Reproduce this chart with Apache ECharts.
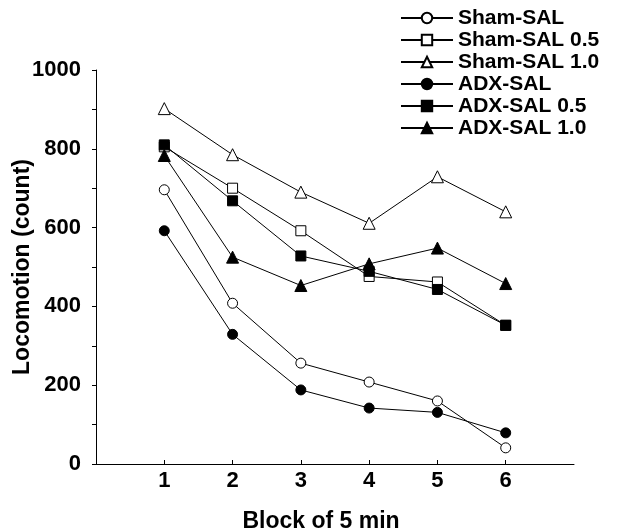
<!DOCTYPE html>
<html>
<head>
<meta charset="utf-8">
<script src="https://cdn.jsdelivr.net/npm/echarts@6/dist/echarts.min.js"></script>
<style>
  html, body { margin: 0; padding: 0; background: #fff; }
  #chart { width: 620px; height: 532px; }
</style>
</head>
<body>
<div id="chart"></div>
<script>
// blocks of 5 min
var blocks = [1, 2, 3, 4, 5, 6];
var yTicks = [0, 200, 400, 600, 800, 1000];

var shamSal = [696, 408, 256, 208, 160, 41];
var shamSal05 = [805, 700, 592, 476, 462, 352];
var shamSal10 = [902, 785, 690, 611, 729, 640];
var adxSal = [592, 329, 188, 142, 131, 79];
var adxSal05 = [810, 668, 528, 489, 443, 352];
var adxSal10 = [783, 525, 453, 508, 548, 458];

var FONT = "Liberation Sans";

// name, values, symbol, filled?, size
var seriesDefs = [
    ["Sham-SAL", shamSal, "circle", false, 10],
    ["Sham-SAL 0.5", shamSal05, "rect", false, 10],
    ["Sham-SAL 1.0", shamSal10, "triangle", false, 12],
    ["ADX-SAL", adxSal, "circle", true, 10],
    ["ADX-SAL 0.5", adxSal05, "rect", true, 10],
    ["ADX-SAL 1.0", adxSal10, "triangle", true, 12],
];

function pairs(vals) {
    return blocks.map(function (b, i) {
        return [b, vals[i]];
    });
}

var chart = echarts.init(document.getElementById("chart"), null, { renderer: "canvas" });

chart.setOption({
    animation: false,
    backgroundColor: "#fff",
    grid: { left: 96, right: 46, top: 70, bottom: 68, containLabel: false, outerBoundsMode: "none" },
    legend: {
        orient: "vertical",
        left: 395,
        top: 2,
        itemWidth: 52,
        itemHeight: 13,
        itemGap: 0,
        selectedMode: false,
        textStyle: {
            fontFamily: FONT,
            fontWeight: "bold",
            fontSize: 21,
            lineHeight: 22,
            color: "#000",
        },
        data: seriesDefs.map(function (d) { return d[0]; }),
    },
    xAxis: {
        type: "value",
        min: 0,
        max: 7,
        interval: 1,
        name: "Block of 5 min",
        nameLocation: "middle",
        nameGap: 46,
        nameMoveOverlap: false,
        nameTextStyle: {
            fontFamily: FONT,
            fontWeight: "bold",
            fontSize: 23,
            color: "#000",
            padding: [0, 28, 0, 0],
        },
        axisLine: { lineStyle: { color: "#000", width: 1 } },
        axisTick: { inside: true, length: 4, lineStyle: { color: "#000" }, customValues: blocks },
        axisLabel: {
            customValues: blocks,
            margin: 6,
            fontFamily: FONT,
            fontWeight: "bold",
            fontSize: 22,
            color: "#000",
        },
        splitLine: { show: false },
    },
    yAxis: {
        type: "value",
        min: 0,
        max: 1000,
        interval: 100,
        name: "Locomotion (count)",
        nameLocation: "middle",
        nameRotate: 90,
        nameGap: 62,
        nameMoveOverlap: false,
        nameTextStyle: { fontFamily: FONT, fontWeight: "bold", fontSize: 23, color: "#000" },
        axisLine: { show: true, lineStyle: { color: "#000", width: 1 } },
        axisTick: { show: true, length: 4, lineStyle: { color: "#000" } },
        axisLabel: {
            margin: 15,
            fontFamily: FONT,
            fontWeight: "bold",
            fontSize: 22,
            color: "#000",
            formatter: function (v) {
                return yTicks.indexOf(v) >= 0 ? String(v) : "";
            },
        },
        splitLine: { show: false },
    },
    series: seriesDefs.map(function (d) {
        return {
            name: d[0],
            type: "line",
            data: pairs(d[1]),
            symbol: d[2],
            symbolSize: d[4],
            showAllSymbol: true,
            lineStyle: { color: "#000", width: 1 },
            itemStyle: {
                color: d[3] ? "#000" : "#fff",
                borderColor: "#000",
                borderWidth: 1,
            },
            z: d[3] ? 3 : 2,
        };
    }),
});
</script>
</body>
</html>
